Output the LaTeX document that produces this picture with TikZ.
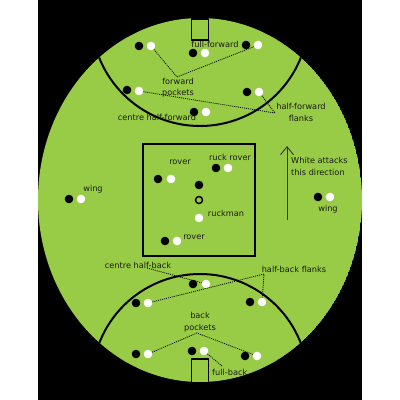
\documentclass[tikz,border=0pt]{standalone}
\usepackage{fontspec}
\setmainfont{DejaVu Sans}
\usetikzlibrary{arrows.meta}

\definecolor{turf}{RGB}{152,204,70}

\begin{document}
\begin{tikzpicture}[x=1pt, y=-1pt,
    player/.style={circle, inner sep=0pt, minimum size=8.6pt},
    blk/.style={player, fill=black},
    wht/.style={player, fill=white},
    poslabel/.style={inner sep=0pt, align=center, text=black!90,
                font=\fontsize{8.2}{11.5}\selectfont},
    leader/.style={line width=0.8pt, dash pattern=on 1pt off 1pt}]

  % Page
  \fill[white] (0,0) rectangle (400,400);
  \fill[black] (38,0) rectangle (362,400);
  \useasboundingbox (0,0) rectangle (400,400);

  \begin{scope}
    \clip (200,200) ellipse [x radius=162, y radius=182];

    % Field
    \fill[turf] (200,200) ellipse [x radius=162, y radius=182];

    % 50 m arcs
    \draw[line width=2pt] (200,17.5) circle [radius=108.5];
    \draw[line width=2pt] (200,382) circle [radius=108];

    % Goal squares
    \draw[line width=1.6pt] (191.5,19) rectangle (208.5,40);
    \draw[line width=1.6pt] (191.5,359) rectangle (208.5,383);

    % Centre square
    \draw[line width=2pt] (143,144) rectangle (255,256);

    % Forward line
    \node[blk] (bfpl) at (139,46) {};  \node[wht] (wfpl) at (151,46) {};
    \node[blk] (bff)  at (193,53) {};  \node[wht] (wff)  at (205,53) {};
    \node[blk] (bfpr) at (246,45) {};  \node[wht] (wfpr) at (258,45) {};
    \node[poslabel] (lff) at (215,44) {full-forward};
    \node[poslabel] (lfp) at (178,87.5) {forward\\pockets};
    \coordinate (fpjoin) at (177,77);
    \draw[leader] (wfpl) -- (fpjoin) -- (wfpr);

    % Half-forward line
    \node[blk] (bhfl) at (127,90)  {};  \node[wht] (whfl) at (139,91)  {};
    \node[blk] (bhfr) at (247,92)  {};  \node[wht] (whfr) at (259,92)  {};
    \node[blk] (bchf) at (194,112) {};  \node[wht] (wchf) at (206,112) {};
    \node[poslabel] (lchf) at (157,117) {centre half-forward};
    \node[poslabel] (lhff) at (301,112.5) {half-forward\\flanks};
    \coordinate (hfjoin) at (275,113);
    \draw[leader] (whfl) -- (hfjoin) -- (whfr);

    % Centre line
    \node[blk] (bwl) at (69,199)  {};  \node[wht] (wwl) at (81,199)  {};
    \node[poslabel] (lwl) at (93,189) {wing};
    \node[blk] (bwr) at (318,197) {};  \node[wht] (wwr) at (330,197) {};
    \node[poslabel] (lwr) at (328,209) {wing};

    % Followers
    \node[blk] (brov)  at (158,179) {};  \node[wht] (wrov)  at (171,179) {};
    \node[poslabel] (lrov)  at (180,162) {rover};
    \node[blk] (brr)   at (216,168) {};  \node[wht] (wrr)   at (228,168) {};
    \node[poslabel] (lrr)   at (230,157) {ruck rover};
    \node[blk] (bruck) at (199,185) {};
    \node[player, draw, fill=turf, line width=1.5pt, minimum size=7pt] (ball) at (199,200) {};
    \node[wht] (wruck) at (199,218) {};
    \node[poslabel] (lruck) at (226,213) {ruckman};
    \node[blk] (brov2) at (165,241) {};  \node[wht] (wrov2) at (177,241) {};
    \node[poslabel] (lrov2) at (194,237) {rover};

    % Direction of play
    \coordinate (dirtail) at (287,220);
    \coordinate (dirtip)  at (287,146);
    \draw[line width=0.9pt, black!80, -{Straight Barb[length=8pt, width=13pt]}] (dirtail) -- (dirtip);
    \node[poslabel, anchor=west, align=left] (ldir) at (291,166.5) {White attacks\\this direction};

    % Half-back line
    \node[blk] (bchb) at (193,284) {};  \node[wht] (wchb) at (206,284) {};
    \node[blk] (bhbl) at (136,303) {};  \node[wht] (whbl) at (148,303) {};
    \node[blk] (bhbr) at (250,302) {};  \node[wht] (whbr) at (262,302) {};
    \node[poslabel] (lchb) at (138,265) {centre half-back};
    \node[poslabel] (lhbf) at (294,269) {half-back flanks};
    \coordinate (chbfrom) at (147,268);
    \draw[leader] (chbfrom) -- (wchb);
    \coordinate (hbjoin) at (264,274);
    \draw[leader] (whbl) -- (hbjoin) -- (whbr);

    % Back line
    \node[blk] (bbpl) at (136,354) {};  \node[wht] (wbpl) at (148,354) {};
    \node[blk] (bfb)  at (192,351) {};  \node[wht] (wfb)  at (204,351) {};
    \node[blk] (bbpr) at (245,356) {};  \node[wht] (wbpr) at (257,356) {};
    \node[poslabel] (lbp) at (200,322) {back\\pockets};
    \coordinate (bpjoin) at (197,333);
    \draw[leader] (wbpl) -- (bpjoin) -- (wbpr);
    \node[poslabel, anchor=west] (lfb) at (212,372) {full-back};
    \coordinate (fbto) at (222,366);
    \draw[leader] (wfb) -- (fbto);
  \end{scope}
\end{tikzpicture}
\end{document}
